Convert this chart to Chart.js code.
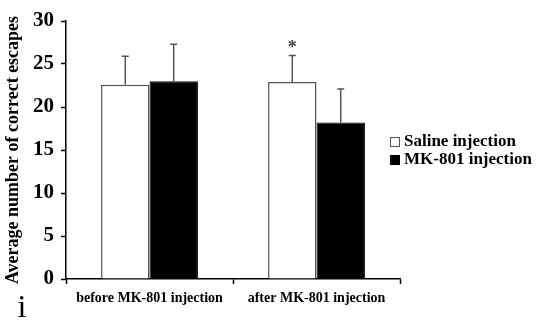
<!DOCTYPE html>
<html>
<head>
<meta charset="utf-8">
<script src="https://cdn.jsdelivr.net/npm/chart.js@4"></script>
<style>
  html, body { margin: 0; padding: 0; background: #fff; }
  #wrap { width: 539px; height: 320px; }
</style>
</head>
<body>
<div id="wrap"><canvas id="myChart" width="539" height="320"></canvas></div>
<script>
// Chart data
const categories = ['before MK-801 injection', 'after MK-801 injection'];
const salineValues = [22.6, 22.9];
const salineErrors = [3.3, 3.1];
const mkValues = [23.0, 18.2];
const mkErrors = [4.3, 3.9];
const yTicks = [0, 5, 10, 15, 20, 25, 30];
const significant = [false, true]; // asterisk over saline bar

const serif = "'Liberation Serif', 'Times New Roman', serif";

// Error bars, asterisk, legend and panel letter
const extrasPlugin = {
    id: 'extras',
    afterDatasetsDraw(chart) {
        const ctx = chart.ctx;
        const yScale = chart.scales.y;
        const errs = [salineErrors, mkErrors];
        ctx.save();
        chart.data.datasets.forEach((ds, di) => {
            const meta = chart.getDatasetMeta(di);
            meta.data.forEach((bar, i) => {
                const top = yScale.getPixelForValue(ds.data[i] + errs[di][i]);
                ctx.strokeStyle = '#555';
                ctx.lineWidth = 1.5;
                ctx.beginPath();
                ctx.moveTo(bar.x, bar.y);
                ctx.lineTo(bar.x, top);
                ctx.moveTo(bar.x - 3.5, top);
                ctx.lineTo(bar.x + 3.5, top);
                ctx.stroke();
                if (di === 0 && significant[i]) {
                    ctx.fillStyle = '#444';
                    ctx.font = "bold 18px " + serif;
                    ctx.textAlign = 'center';
                    ctx.textBaseline = 'middle';
                    ctx.fillText('*', bar.x, top - 7);
                }
            });
        });

        // legend
        ctx.font = "bold 17px " + serif;
        ctx.textAlign = 'left';
        ctx.textBaseline = 'middle';
        const rows = [142, 160];
        chart.data.datasets.forEach((ds, di) => {
            const y = rows[di];
            ctx.fillStyle = ds.backgroundColor;
            ctx.fillRect(390.5, y - 4.5, 9, 9);
            ctx.strokeStyle = ds.borderColor;
            ctx.lineWidth = 1;
            ctx.strokeRect(390.5, y - 4.5, 9, 9);
            ctx.fillStyle = '#000';
            ctx.fillText(ds.label, 404, y);
        });

        // panel letter
        ctx.font = "32px " + serif;
        ctx.textAlign = 'center';
        ctx.textBaseline = 'alphabetic';
        ctx.fillText('i', 22, 317);
        ctx.restore();
    }
};

const chartX = document.getElementById('myChart').getContext('2d');
const chart = new Chart(chartX, {
    type: 'bar',
    data: {
        labels: categories,
        datasets: [{
            label: 'Saline injection',
            data: salineValues,
            backgroundColor: '#ffffff',
            borderColor: '#555555',
            borderWidth: 1.5,
            borderSkipped: 'bottom'
        }, {
            label: 'MK-801 injection',
            data: mkValues,
            backgroundColor: '#000000',
            borderColor: '#000000',
            borderWidth: 1,
            borderSkipped: 'bottom'
        }]
    },
    options: {
        responsive: false,
        animation: false,
        layout: { padding: { left: 0, top: 21, right: 139, bottom: 0 } },
        categoryPercentage: 0.58,
        barPercentage: 1.0,
        plugins: {
            legend: { display: false },
            tooltip: { enabled: false }
        },
        scales: {
            x: {
                grid: { drawOnChartArea: false, tickLength: 5, color: '#000', tickWidth: 1.5 },
                border: { color: '#000', width: 1.5 },
                ticks: {
                    color: '#000',
                    padding: 6,
                    maxRotation: 0,
                    font: { family: serif, size: 14, weight: 'bold' }
                },
                afterFit(scale) { scale.height = 41; }
            },
            y: {
                min: 0,
                max: 30,
                afterBuildTicks(scale) { scale.ticks = yTicks.map(v => ({ value: v })); },
                grid: { drawOnChartArea: false, tickLength: 5, color: '#000', tickWidth: 1.5 },
                border: { color: '#000', width: 1.5 },
                ticks: {
                    color: '#000',
                    padding: 7,
                    font: { family: serif, size: 21, weight: 'bold' }
                },
                title: {
                    display: true,
                    text: 'Average number of correct escapes',
                    color: '#000',
                    padding: { top: 3, bottom: 0 },
                    font: { family: serif, size: 18, weight: 'bold' }
                },
                afterFit(scale) { scale.width = 66; }
            }
        }
    },
    plugins: [extrasPlugin]
});
</script>
</body>
</html>
